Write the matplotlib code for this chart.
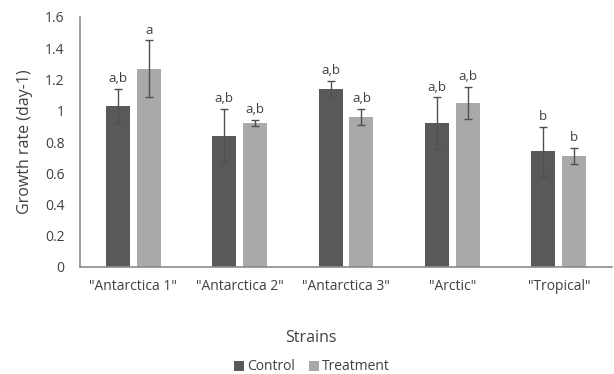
import matplotlib
matplotlib.use("Agg")
import matplotlib.pyplot as plt
import numpy as np

plt.rcParams['font.family'] = ['Open Sans', 'DejaVu Sans']

strains = ['"Antarctica 1"', '"Antarctica 2"', '"Antarctica 3"', '"Arctic"', '"Tropical"']
control = [1.03, 0.84, 1.14, 0.92, 0.74]
control_err = [0.11, 0.17, 0.05, 0.165, 0.155]
treatment = [1.27, 0.92, 0.96, 1.05, 0.71]
treatment_err = [0.18, 0.02, 0.05, 0.105, 0.05]
control_letters = ["a,b", "a,b", "a,b", "a,b", "b"]
treatment_letters = ["a", "a,b", "a,b", "a,b", "b"]
yticks = [0, 0.2, 0.4, 0.6, 0.8, 1, 1.2, 1.4, 1.6]

dark = "#595959"
light = "#a9a9a9"
text_col = "#404040"
axis_col = "#8c8c8c"

fig = plt.figure(figsize=(6.14, 3.74), dpi=100)
ax = fig.add_axes([80/614, 107/374, 532/614, 250/374])

x = np.arange(len(strains))
w = 0.225
off = 0.145
ekw = dict(ecolor="#505050", elinewidth=1.0, capsize=2.6, capthick=1.0)
ax.bar(x - off, control, w, color=dark, label="Control",
       yerr=control_err, error_kw=ekw, zorder=2)
ax.bar(x + off, treatment, w, color=light, label="Treatment",
       yerr=treatment_err, error_kw=ekw, zorder=2)

for i in range(len(strains)):
    ax.text(x[i] - off, control[i] + control_err[i] + 0.025, control_letters[i],
            ha="center", va="bottom", fontsize=9.5, color=text_col)
    ax.text(x[i] + off, treatment[i] + treatment_err[i] + 0.025, treatment_letters[i],
            ha="center", va="bottom", fontsize=9.5, color=text_col)

ax.set_xlim(-0.5, len(strains) - 0.5)
ax.set_ylim(0, 1.6)
ax.set_yticks(yticks)
ax.set_yticklabels([f"{v:g}" for v in yticks])
ax.set_xticks(x)
ax.set_xticklabels(strains)
ax.tick_params(axis="both", length=0, labelsize=10, colors=text_col)
ax.tick_params(axis="y", pad=11)
ax.tick_params(axis="x", pad=9)

for s in ["top", "right"]:
    ax.spines[s].set_visible(False)
for s in ["left", "bottom"]:
    ax.spines[s].set_color(axis_col)
    ax.spines[s].set_linewidth(1.2)

ax.set_ylabel("Growth rate (day-1)", fontsize=11.5, color=text_col, labelpad=9)
fig.text(311/614, 1 - 338/374, "Strains", ha="center", va="center",
         fontsize=11.5, color=text_col)

leg = fig.legend(loc="center", bbox_to_anchor=(312/614, 1 - 367/374), ncol=2,
                 frameon=False, fontsize=10, handlelength=0.75, handleheight=0.75,
                 handletextpad=0.2, columnspacing=1.0)
for t in leg.get_texts():
    t.set_color(text_col)

fig.savefig("out.png", dpi=100)
